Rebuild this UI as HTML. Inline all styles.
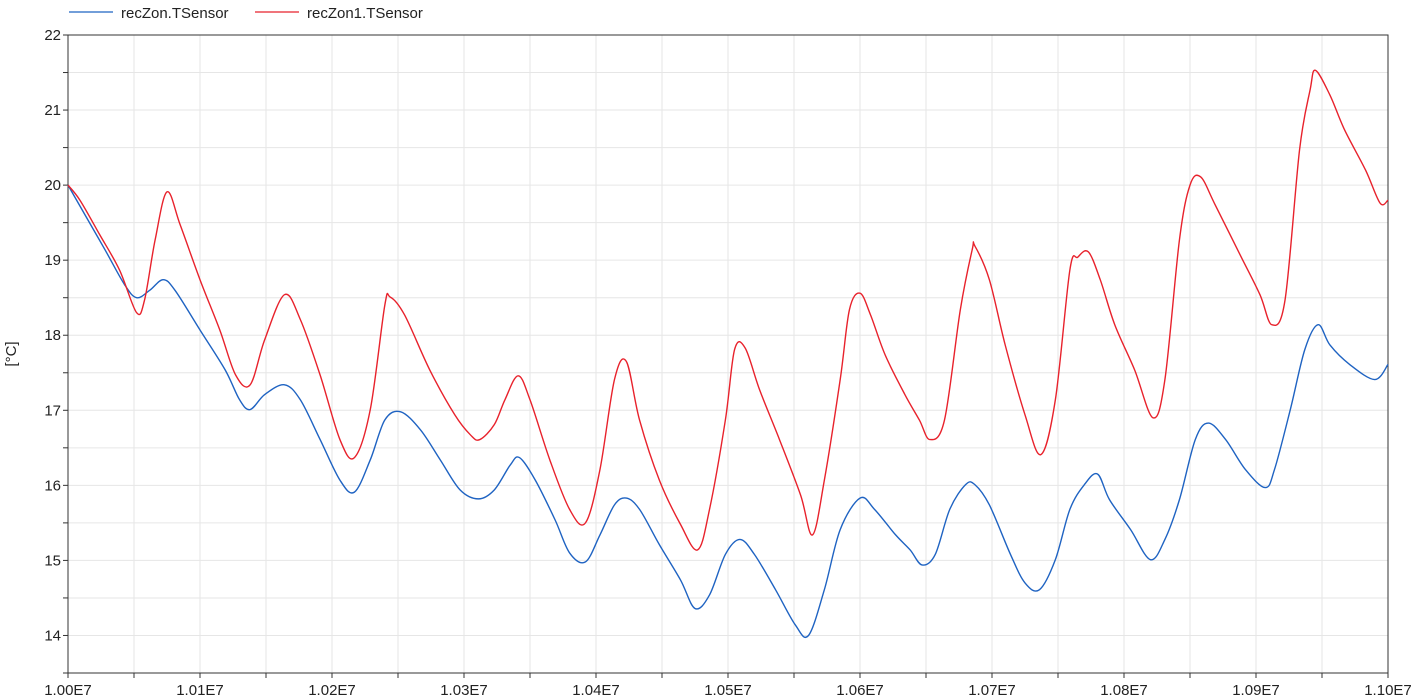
<!DOCTYPE html>
<html><head><meta charset="utf-8"><style>
body{margin:0;background:#fff;}
svg{display:block;font-family:"Liberation Sans",Arial,sans-serif;}
</style></head><body>
<svg id="chart" width="1417" height="700" viewBox="0 0 1417 700">
<g id="grid"></g>
<g id="axes"></g>
<g id="series"></g>
<g>
 <line x1="69" y1="12" x2="113" y2="12" stroke="#1f63c2" stroke-width="1.3"/>
 <text x="121" y="18" font-size="15" fill="#222">recZon.TSensor</text>
 <line x1="255" y1="12" x2="299" y2="12" stroke="#e8222c" stroke-width="1.3"/>
 <text x="307" y="18" font-size="15" fill="#222">recZon1.TSensor</text>
</g>
<text x="16" y="354" font-size="15" fill="#222" transform="rotate(-90 16 354)" text-anchor="middle">[°C]</text>
</svg>
<script>
const xTicks=[1.00,1.01,1.02,1.03,1.04,1.05,1.06,1.07,1.08,1.09,1.10];
const xTickLabels=["1.00E7","1.01E7","1.02E7","1.03E7","1.04E7","1.05E7","1.06E7","1.07E7","1.08E7","1.09E7","1.10E7"];
const yTicks=[14,15,16,17,18,19,20,21,22];
const redT=[1.0000,1.0009,1.0024,1.0039,1.0052,1.0058,1.0066,1.0075,1.0085,1.0100,1.0115,1.0127,1.0138,1.0149,1.0164,1.0176,1.0191,1.0206,1.0217,1.0229,1.0240,1.0244,1.0255,1.0274,1.0293,1.0305,1.0312,1.0323,1.0331,1.0341,1.0350,1.0365,1.0380,1.0392,1.0403,1.0414,1.0423,1.0433,1.0448,1.0464,1.0477,1.0486,1.0498,1.0505,1.0513,1.0524,1.0539,1.0555,1.0564,1.0573,1.0585,1.0592,1.0600,1.0608,1.0619,1.0634,1.0645,1.0653,1.0664,1.0676,1.0685,1.0687,1.0698,1.0710,1.0725,1.0737,1.0748,1.0759,1.0765,1.0773,1.0782,1.0793,1.0808,1.0822,1.0831,1.0842,1.0850,1.0858,1.0869,1.0888,1.0903,1.0912,1.0922,1.0933,1.0941,1.0945,1.0956,1.0967,1.0983,1.0994,1.1000];
const redV=[20.00,19.80,19.34,18.87,18.30,18.47,19.27,19.91,19.47,18.74,18.07,17.47,17.34,17.94,18.54,18.21,17.47,16.61,16.37,17.01,18.40,18.51,18.27,17.54,16.94,16.67,16.61,16.81,17.14,17.46,17.14,16.34,15.68,15.50,16.21,17.41,17.65,16.87,16.07,15.48,15.14,15.68,16.87,17.81,17.83,17.27,16.61,15.87,15.34,16.07,17.41,18.34,18.56,18.27,17.74,17.21,16.87,16.61,16.87,18.34,19.14,19.19,18.74,17.87,16.94,16.41,17.14,18.87,19.04,19.11,18.74,18.14,17.54,16.90,17.41,19.27,20.00,20.11,19.74,19.07,18.54,18.14,18.47,20.47,21.27,21.53,21.20,20.74,20.20,19.76,19.80];
const blueT=[1.0000,1.0013,1.0028,1.0043,1.0052,1.0062,1.0072,1.0081,1.0100,1.0119,1.0130,1.0138,1.0149,1.0164,1.0176,1.0191,1.0206,1.0217,1.0229,1.0240,1.0252,1.0267,1.0282,1.0297,1.0311,1.0323,1.0335,1.0342,1.0354,1.0369,1.0380,1.0392,1.0403,1.0414,1.0423,1.0433,1.0448,1.0464,1.0475,1.0486,1.0498,1.0509,1.0520,1.0536,1.0551,1.0561,1.0573,1.0585,1.0600,1.0611,1.0627,1.0638,1.0647,1.0657,1.0668,1.0680,1.0687,1.0698,1.0714,1.0725,1.0736,1.0748,1.0759,1.0770,1.0780,1.0789,1.0805,1.0820,1.0831,1.0842,1.0854,1.0864,1.0877,1.0892,1.0907,1.0914,1.0926,1.0937,1.0947,1.0956,1.0971,1.0990,1.1000];
const blueV=[20.00,19.60,19.14,18.67,18.50,18.60,18.74,18.60,18.07,17.54,17.14,17.01,17.21,17.34,17.14,16.61,16.07,15.91,16.34,16.87,16.98,16.74,16.34,15.94,15.82,15.94,16.27,16.37,16.07,15.54,15.10,14.98,15.34,15.74,15.83,15.68,15.21,14.74,14.36,14.54,15.08,15.28,15.08,14.61,14.14,14.00,14.61,15.41,15.83,15.68,15.34,15.14,14.94,15.08,15.68,16.01,16.01,15.74,15.08,14.70,14.61,15.01,15.68,16.01,16.15,15.81,15.41,15.01,15.28,15.81,16.61,16.83,16.61,16.21,15.97,16.21,17.01,17.81,18.14,17.87,17.61,17.41,17.61];

const L=68,R=1388,T=35,B=673,xMin=1.0,xMax=1.1,yMin=13.5,yMax=22;
const sx=v=>L+(v-xMin)/(xMax-xMin)*(R-L);
const sy=v=>B-(v-yMin)/(yMax-yMin)*(B-T);
const NS="http://www.w3.org/2000/svg";
function mk(tag,attrs,parent){const e=document.createElementNS(NS,tag);for(const k in attrs)e.setAttribute(k,attrs[k]);parent.appendChild(e);return e;}
const grid=document.getElementById('grid'),axes=document.getElementById('axes'),series=document.getElementById('series');
for(let v=xMin;v<=xMax+1e-9;v+=0.005){const x=sx(v);
 const g=mk('line',{x1:x,y1:T,x2:x,y2:B,stroke:'#e6e6e6','stroke-width':1},grid);
 
 
 const t=mk('line',{x1:x,y1:B,x2:x,y2:B+5,stroke:'#333','stroke-width':1},axes);
 
 }
for(let v=yMin;v<=yMax+1e-9;v+=0.5){const y=sy(v);
 const g=mk('line',{x1:L,y1:y,x2:R,y2:y,stroke:'#e6e6e6','stroke-width':1},grid);
 
 
 const t=mk('line',{x1:L-5,y1:y,x2:L,y2:y,stroke:'#333','stroke-width':1},axes);
 
 }
const frame=mk('rect',{x:L,y:T,width:R-L,height:B-T,fill:'none',stroke:'#333','stroke-width':1},axes);


xTicks.forEach((v,i)=>{const t=mk('text',{x:sx(v),y:B+22,'font-size':15,fill:'#222','text-anchor':'middle'},axes);t.textContent=xTickLabels[i];
 
 });
yTicks.forEach(v=>{const t=mk('text',{x:L-7,y:sy(v)+5,'font-size':15,fill:'#222','text-anchor':'end'},axes);t.textContent=v;
 
 });
function pathFor(ts,vs){const p=ts.map((t,i)=>[sx(t),sy(vs[i])]);let d='M'+p[0][0]+','+p[0][1];
 for(let i=0;i<p.length-1;i++){const p0=p[i-1]||p[i],p1=p[i],p2=p[i+1],p3=p[i+2]||p2;
  const c1=[p1[0]+(p2[0]-p0[0])/6,p1[1]+(p2[1]-p0[1])/6],c2=[p2[0]-(p3[0]-p1[0])/6,p2[1]-(p3[1]-p1[1])/6];
  d+=' C'+c1.join(',')+' '+c2.join(',')+' '+p2.join(',');}
 return d;}
const bl=mk('path',{d:pathFor(blueT,blueV),fill:'none',stroke:'#1f63c2','stroke-width':1.4},series);


const rd=mk('path',{d:pathFor(redT,redV),fill:'none',stroke:'#e8222c','stroke-width':1.4},series);


</script>
</body></html>
